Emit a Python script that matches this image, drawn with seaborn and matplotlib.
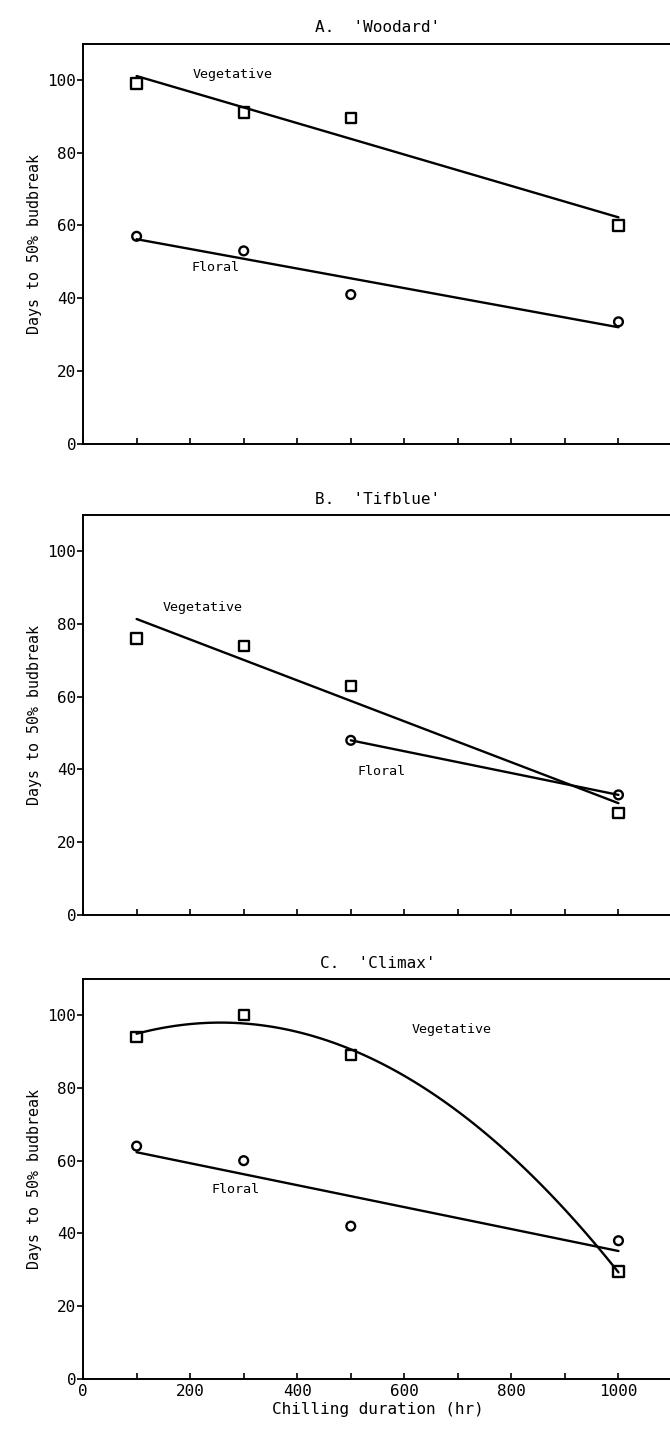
import matplotlib
matplotlib.use("Agg")
import matplotlib.pyplot as plt
import seaborn as sns
import pandas as pd

# Chilling duration (hr)
chill_hr = [100, 300, 500, 1000]

# A. 'Woodard'
woodard_veg = [99, 91, 89.5, 60]
woodard_flo = [57, 53, 41, 33.5]

# B. 'Tifblue'
tifblue_veg = [76, 74, 63, 28]
tifblue_flo_x = [500, 1000]
tifblue_flo = [48, 33]

# C. 'Climax'
climax_veg = [94, 100, 89, 29.5]
climax_flo = [64, 60, 42, 38]

titles = ["A.  'Woodard'", "B.  'Tifblue'", "C.  'Climax'"]

sns.set_style("ticks")
plt.rcParams['font.family'] = ['DejaVu Sans Mono']
plt.rcParams['text.color'] = 'black'
plt.rcParams['axes.labelcolor'] = 'black'
plt.rcParams['xtick.color'] = 'black'
plt.rcParams['ytick.color'] = 'black'
plt.rcParams['axes.edgecolor'] = 'black'

fig = plt.figure(figsize=(6.7, 14.5), dpi=100)
bottoms = [0.694, 0.369, 0.049]
axes = [fig.add_axes([0.124, b, 0.879, 0.276]) for b in bottoms]


def draw_panel(ax, vx, vy, fx, fy, veg_order, title, veg_txt, flo_txt, show_x):
    veg = pd.DataFrame({'x': vx, 'y': vy})
    flo = pd.DataFrame({'x': fx, 'y': fy})
    # fitted lines
    sns.regplot(data=veg, x='x', y='y', order=veg_order, ci=None, scatter=False,
                color='black', line_kws={'linewidth': 1.7}, ax=ax)
    sns.regplot(data=flo, x='x', y='y', ci=None, scatter=False,
                color='black', line_kws={'linewidth': 1.7}, ax=ax)
    # observed points
    sns.scatterplot(data=veg, x='x', y='y', marker='s', s=55, facecolors='none',
                    edgecolor='black', linewidth=1.7, ax=ax, zorder=3)
    sns.scatterplot(data=flo, x='x', y='y', marker='o', s=40, facecolors='none',
                    edgecolor='black', linewidth=1.7, ax=ax, zorder=3)

    ax.text(veg_txt[0], veg_txt[1], 'Vegetative', fontsize=9.6, va='center')
    ax.text(flo_txt[0], flo_txt[1], 'Floral', fontsize=9.6, va='center')

    ax.set_xlim(0, 1100)
    ax.set_ylim(0, 110)
    ax.set_xticks(range(0, 1001, 200))
    ax.set_xticks(range(100, 1100, 200), minor=True)
    ax.set_yticks(range(0, 101, 20))
    ax.tick_params(axis='x', which='both', direction='in', length=4, width=1.2,
                   labelsize=11.5)
    ax.tick_params(axis='y', direction='out', length=4, width=1.2, labelsize=11.5, pad=1)
    if not show_x:
        ax.set_xticklabels([])
        ax.set_xlabel('')
    else:
        ax.set_xlabel('Chilling duration (hr)', fontsize=11.5, labelpad=2)
    ax.set_ylabel('Days to 50% budbreak', fontsize=10.8)
    ax.set_title(title, fontsize=11.5, pad=8)
    for sp in ax.spines.values():
        sp.set_linewidth(1.4)


draw_panel(axes[0], chill_hr, woodard_veg, chill_hr, woodard_flo, 1, titles[0],
           (205, 101.5), (203, 48.5), False)
draw_panel(axes[1], chill_hr, tifblue_veg, tifblue_flo_x, tifblue_flo, 1, titles[1],
           (149, 84.5), (513, 39.5), False)
draw_panel(axes[2], chill_hr, climax_veg, chill_hr, climax_flo, 2, titles[2],
           (614, 96), (239, 52), True)

fig.savefig('out.png', dpi=100)
